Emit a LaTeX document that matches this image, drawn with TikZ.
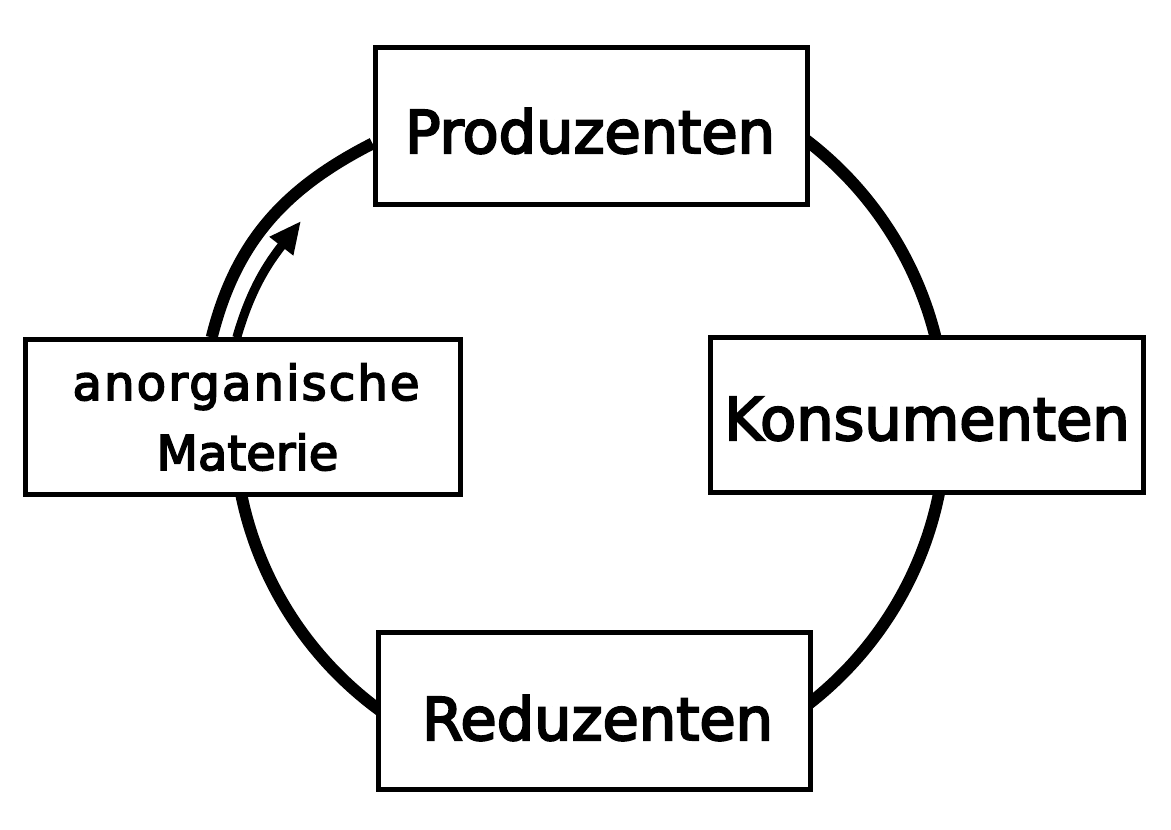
\documentclass[tikz,border=0pt]{standalone}
\usepackage{fontspec}
\newfontfamily\labfont[FakeBold=3.5]{DejaVu Sans}
\newfontfamily\labfontwide[FakeBold=3.5,LetterSpace=4.5]{DejaVu Sans}
\usetikzlibrary{arrows.meta,calc,backgrounds}
\begin{document}
\begin{tikzpicture}[x=1pt,y=1pt,
  box/.style={draw=black, line width=5pt, fill=white, inner sep=0pt, minimum height=155pt},
  ring/.style={draw=black, line width=12pt},
  flow/.style={draw=black, line width=9pt, -{Triangle[length=32pt,width=28pt]}},
  big/.style={font=\labfont\fontsize{59}{70}\selectfont, inner sep=0pt, anchor=base},
  small/.style={font=\labfont\fontsize{48}{70}\selectfont, inner sep=0pt, anchor=base},
  smallwide/.style={font=\labfontwide\fontsize{48}{70}\selectfont, inner sep=0pt, anchor=base}]
\useasboundingbox (0,0) rectangle (1171,830);

% boxes
\node[box, minimum width=435pt] (anorg) at (242.5,412.5) {};
\node[box, minimum width=432pt, minimum height=157pt] (prod) at (591,703.5) {};
\node[box, minimum width=433pt] (kons) at (926.5,414.5) {};
\node[box, minimum width=432pt, minimum height=157pt] (red) at (594,118.5) {};

% texts
\node[big] (prodtxt) at (590,677) {Produzenten};
\node[big] (konstxt) at (927,390) {Konsumenten};
\node[big] (redtxt) at (597.5,90) {Reduzenten};
\node[smallwide] (anorgtxt) at (246,430) {anorganische};
\node[small] (mattxt) at (247.5,360) {Materie};

\coordinate (c) at (590,407);
\coordinate (tip) at (301,609);

\begin{pgfonlayer}{background}
\fill[white] (0,0) rectangle (1171,830);
% cycle ring
\draw[ring] ($(anorg.north west)!0.43!(anorg.north east)$) to[out=76, in=207] ($(prod.north west)!0.605!(prod.south west)$);
\draw[ring] (c) ++(56:356) arc[start angle=56, end angle=10, radius=356];
\draw[ring] (c) ++(-9:356) arc[start angle=-9, end angle=-55, radius=356];
\draw[ring] (c) ++(236:356) arc[start angle=236, end angle=189, radius=356];
% arrow
\draw[flow] ($(anorg.north west)!0.487!(anorg.north east)$) to[out=74, in=232] (tip);
\end{pgfonlayer}
\end{tikzpicture}
\end{document}
